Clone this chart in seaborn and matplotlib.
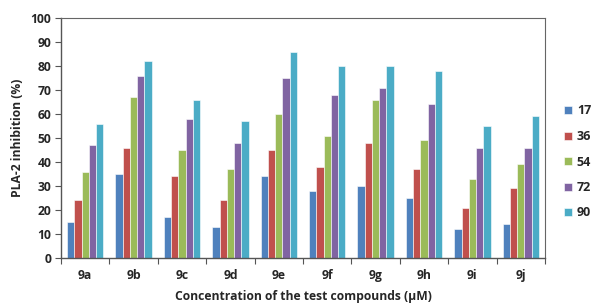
import matplotlib
matplotlib.use('Agg')
import matplotlib.pyplot as plt
import pandas as pd
import seaborn as sns
import numpy as np

# Data
compounds = ['9a', '9b', '9c', '9d', '9e', '9f', '9g', '9h', '9i', '9j']
concentrations = ['17', '36', '54', '72', '90']
inh_17 = [15, 35, 17, 13, 34, 28, 30, 25, 12, 14]
inh_36 = [24, 46, 34, 24, 45, 38, 48, 37, 21, 29]
inh_54 = [36, 67, 45, 37, 60, 51, 66, 49, 33, 39]
inh_72 = [47, 76, 58, 48, 75, 68, 71, 64, 46, 46]
inh_90 = [56, 82, 66, 57, 86, 80, 80, 78, 55, 59]
colors = ['#4F81BD', '#C0504D', '#9BBB59', '#8064A2', '#4BACC6']

rows = []
for conc, vals in zip(concentrations, [inh_17, inh_36, inh_54, inh_72, inh_90]):
    for comp, v in zip(compounds, vals):
        rows.append({'compound': comp, 'conc': conc, 'value': v})
df = pd.DataFrame(rows)

sns.set_style('white')
plt.rcParams['font.family'] = ['Open Sans', 'DejaVu Sans']
plt.rcParams['font.weight'] = 'bold'
fs = 8.7

fig = plt.figure(figsize=(5.93, 3.04), dpi=100)
ax = fig.add_axes([61/593, 1-258/304, (545-61)/593, (258-18)/304])

sns.barplot(data=df, x='compound', y='value', hue='conc', order=compounds,
            hue_order=concentrations, palette=colors, width=0.75, gap=0,
            ax=ax, edgecolor='white', linewidth=0.4, saturation=1)

ax.set_ylim(0, 100)
ax.set_xlim(-0.5, len(compounds) - 0.5)
ax.set_yticks(range(0, 101, 10))
ax.set_xlabel('Concentration of the test compounds (μM)', fontsize=fs, fontweight='bold', labelpad=6)
ax.set_ylabel('PLA-2 inhibition (%)', fontsize=fs, fontweight='bold', labelpad=5)

ax.tick_params(axis='y', which='major', direction='out', length=4, width=0.8,
               color='#555555', labelsize=fs, left=True, pad=3)
ax.tick_params(axis='x', which='major', length=0, labelsize=fs, pad=8)
ax.set_xticks(np.arange(-0.5, len(compounds), 1.0), minor=True)
ax.tick_params(axis='x', which='minor', direction='out', length=4, width=0.8,
               color='#555555', bottom=True)
for lbl in ax.get_xticklabels() + ax.get_yticklabels():
    lbl.set_fontweight('bold')

for side in ['left', 'bottom']:
    ax.spines[side].set_color('#555555')
    ax.spines[side].set_linewidth(1.0)
for side in ['top', 'right']:
    ax.spines[side].set_color('#666666')
    ax.spines[side].set_linewidth(0.8)

ax.legend(loc='center left', bbox_to_anchor=(1.04, 0.40), frameon=False,
          borderaxespad=0, borderpad=0,
          handlelength=0.6, handleheight=0.6, handletextpad=0.4,
          labelspacing=1.0, prop={'size': 9, 'weight': 'bold'})

fig.savefig('out.png', dpi=100)
